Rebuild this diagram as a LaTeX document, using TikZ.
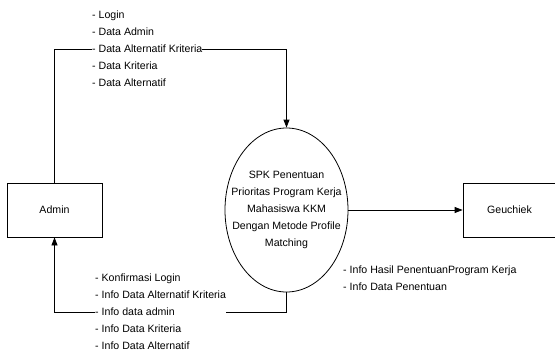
\documentclass[tikz,border=0pt]{standalone}
\usepackage{fontspec}
\setmainfont{Liberation Sans}
\usetikzlibrary{arrows.meta,shapes.geometric}
\begin{document}
\begin{tikzpicture}[x=1pt,y=-1pt,
  every node/.style={font=\fontsize{10.6}{17}\selectfont},
  entity/.style={draw,line width=0.8pt,minimum height=54pt,inner sep=0pt},
  process/.style={draw,ellipse,line width=0.8pt,minimum width=123pt,minimum height=164pt,inner sep=0pt},
  flow/.style={line width=0.8pt,-{Triangle[length=8pt,width=6pt]}},
  lbl/.style={align=left,inner sep=0pt,fill=white}
]
\clip (0,0) rectangle (555,356);
\node[entity,minimum width=95pt] (admin) at (54.5,210) {Admin};
\node[entity,minimum width=93pt] (geu) at (509.5,210) {Geuchiek};
\node[process] (spk) at (286.5,210) {};
\node[align=center,inner sep=0pt] (spktext) at (spk.center) {SPK Penentuan\\Prioritas Program Kerja\\Mahasiswa KKM\\Dengan Metode Profile\\Matching};
\coordinate (topy) at (0,49);
\coordinate (boty) at (0,312);
\draw[flow] (admin.north) -- (admin.north |- topy) -- (spk.north |- topy) -- (spk.north);
\draw[flow] (spk.south) -- (spk.south |- boty) -- (admin.south |- boty) -- (admin.south);
\draw[flow] (spk.east) -- (geu.west);
\node[lbl,anchor=west] (inlbl) at (92,49) {- Login\\- Data Admin\\- Data Alternatif Kriteria\\- Data Kriteria\\- Data Alternatif};
\node[lbl,anchor=west] (outlbl) at (95,312) {- Konfirmasi Login\\- Info Data Alternatif Kriteria\\- Info data admin\\- Info Data Kriteria\\- Info Data Alternatif};
\node[align=left,inner sep=0pt,anchor=west] (geulbl) at (343,278.5) {- Info Hasil PenentuanProgram Kerja\\- Info Data Penentuan};
\end{tikzpicture}
\end{document}
